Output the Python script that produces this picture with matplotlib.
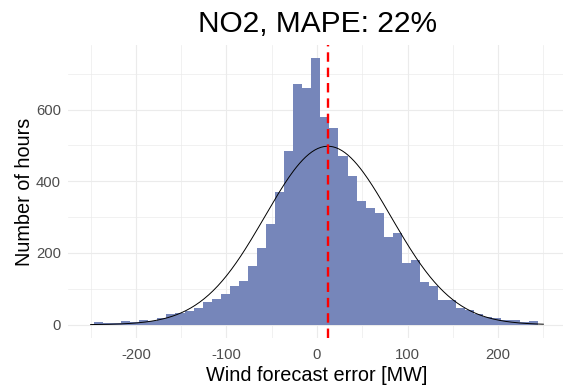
import numpy as np
import matplotlib.pyplot as plt
from matplotlib.ticker import MultipleLocator

plt.rcParams['font.family'] = ['Liberation Sans', 'DejaVu Sans']
plt.rcParams['axes.unicode_minus'] = False

# histogram of forecast errors (bins of 10 MW)
bin_left = np.arange(-246.3, 243.7, 10)
counts = [8, 4, 4, 10, 8, 13, 11, 19, 29, 34, 39, 47, 63, 73, 87, 107,
          121, 164, 213, 282, 370, 485, 670, 661, 743, 578, 548, 470, 414,
          345, 325, 311, 245, 257, 173, 180, 119, 108, 70, 70, 47, 42, 31,
          22, 19, 13, 13, 7, 11]
bin_w = 10
mean_err = 12
sd_err = 69.6
x_ticks = [-200, -100, 0, 100, 200]
y_ticks = [0, 200, 400, 600]

counts = np.array(counts)
n_total = counts.sum()

fig = plt.figure(figsize=(5.63, 3.92), dpi=100)
ax = fig.add_axes([0.1208, 0.1378, 0.8845, 0.7474])

ax.bar(bin_left, counts, width=bin_w, align='edge', color='#7686BA',
       linewidth=0, zorder=2)

xs = np.linspace(-250, 250, 300)
dens = np.exp(-0.5 * ((xs - mean_err) / sd_err) ** 2) / (sd_err * np.sqrt(2 * np.pi))
ax.plot(xs, dens * n_total * bin_w, color='black', linewidth=0.7, zorder=3)

ax.axvline(mean_err, color='red', linewidth=1.7, linestyle=(0, (4, 2.5)), zorder=4)

ax.set_xlim(-275, 275)
ax.set_ylim(-37, 780)
ax.set_xticks(x_ticks)
ax.set_yticks(y_ticks)
ax.xaxis.set_minor_locator(MultipleLocator(50))
ax.yaxis.set_minor_locator(MultipleLocator(100))
ax.grid(which='major', color='#EBEBEB', linewidth=0.8)
ax.grid(which='minor', color='#EBEBEB', linewidth=0.5)
ax.set_axisbelow(True)
for s in ax.spines.values():
    s.set_visible(False)
ax.tick_params(which='both', length=0, labelsize=10.7, labelcolor='#4D4D4D')
ax.tick_params(axis='x', pad=7)
ax.tick_params(axis='y', pad=5)

ax.set_xlabel('Wind forecast error [MW]', fontsize=14.3, labelpad=3)
ax.set_ylabel('Number of hours', fontsize=14.3, labelpad=1.5)
fig.text(0.564, 0.94, 'NO2, MAPE: 22%', fontsize=21.5, ha='center', va='center')

fig.savefig('out.png', dpi=100)
plt.close(fig)
